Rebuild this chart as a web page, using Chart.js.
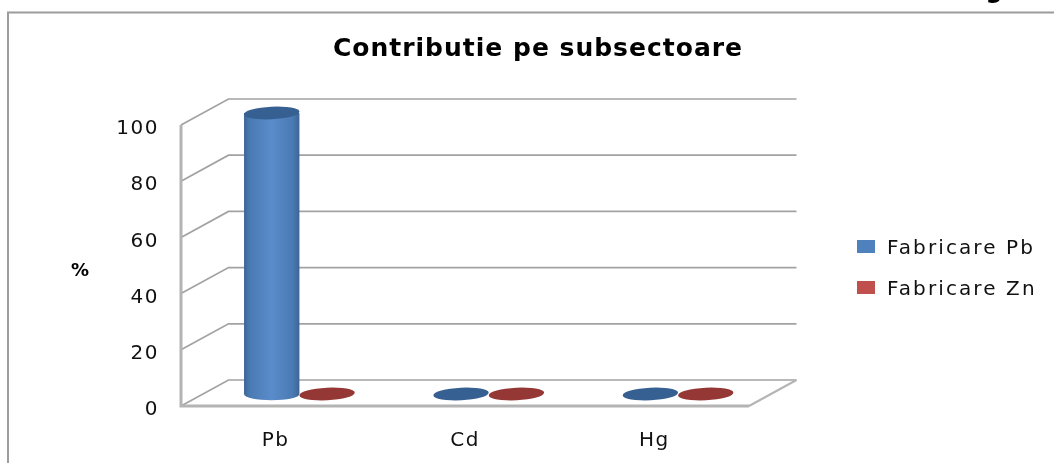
<!DOCTYPE html>
<html><head><meta charset="utf-8">
<style>html,body{margin:0;padding:0;background:#fff;overflow:hidden}#w{width:1054px;height:463px;position:relative}canvas{display:block}</style>
<script src="https://cdn.jsdelivr.net/npm/chart.js@4"></script>
</head><body><div id="w"><canvas id="c" width="1054" height="463"></canvas></div>
<script>
const categories = ["Pb", "Cd", "Hg"];
const fabricarePb = [100, 0, 0];
const fabricareZn = [0, 0, 0];
const yTicks = [0, 20, 40, 60, 80, 100];
const titleText = "Contributie pe subsectoare";
const yAxisLabel = "%";

const FONT = '"DejaVu Sans"';
const DX = 47.5, DY = -26;

const scene = {
  id: 'scene',
  beforeDraw(chart) {
    const ctx = chart.ctx;
    ctx.letterSpacing = '1.5px';
    ctx.save();
    ctx.fillStyle = '#fff';
    ctx.fillRect(0, 0, chart.width, chart.height);
    ctx.strokeStyle = '#9c9c9c';
    ctx.lineWidth = 2;
    ctx.beginPath();
    ctx.moveTo(8, 463); ctx.lineTo(8, 12.5); ctx.lineTo(1054, 12.5);
    ctx.stroke();
    ctx.restore();
  },
  beforeDatasetsDraw(chart) {
    const ctx = chart.ctx, y = chart.scales.y, a = chart.chartArea;
    ctx.save();
    ctx.strokeStyle = '#a2a2a2';
    ctx.lineWidth = 1.7;
    yTicks.forEach(v => {
      const p = y.getPixelForValue(v);
      ctx.beginPath();
      ctx.moveTo(a.left, p);
      ctx.lineTo(a.left + DX, p + DY);
      ctx.lineTo(a.right + DX, p + DY);
      ctx.stroke();
    });
    const p0 = y.getPixelForValue(0);
    ctx.strokeStyle = '#b4b4b4';
    ctx.lineWidth = 3;
    ctx.beginPath();
    ctx.moveTo(a.left, y.getPixelForValue(100));
    ctx.lineTo(a.left, p0);
    ctx.lineTo(a.right, p0);
    ctx.stroke();
    ctx.lineWidth = 2;
    ctx.beginPath();
    ctx.moveTo(a.right, p0);
    ctx.lineTo(a.right + DX, p0 + DY);
    ctx.stroke();

    const dark = ['#376092', '#953735'];
    const edge = ['#3c6593', '#8e3331'];
    const mid = ['#5a8ccb', '#c0504d'];
    chart.data.datasets.forEach((ds, i) => {
      chart.getDatasetMeta(i).data.forEach(el => {
        const cx = el.x + DX / 2;
        const rx = el.width / 2, ry = 6.3;
        const by = el.base + DY / 2 + 1, ty = el.y + DY / 2 + 1;
        const tilt = -0.05;
        if (by - ty > 2) {
          const g = ctx.createLinearGradient(cx - rx, 0, cx + rx, 0);
          g.addColorStop(0, edge[i]);
          g.addColorStop(0.1, '#4a7ab3');
          g.addColorStop(0.5, mid[i]);
          g.addColorStop(0.88, '#4a7ab3');
          g.addColorStop(1, edge[i]);
          ctx.fillStyle = g;
          ctx.beginPath();
          ctx.ellipse(cx, by, rx, ry, 0, 0, Math.PI);
          ctx.lineTo(cx - rx, ty);
          ctx.lineTo(cx + rx, ty);
          ctx.closePath();
          ctx.fill();
        }
        ctx.fillStyle = dark[i];
        ctx.beginPath();
        ctx.ellipse(cx, ty, rx, ry, tilt, 0, Math.PI * 2);
        ctx.fill();
      });
    });
    ctx.restore();
    return false;
  },
  afterDraw(chart) {
    const ctx = chart.ctx;
    ctx.save();
    ctx.fillStyle = '#000';
    ctx.textBaseline = 'middle';
    ctx.textAlign = 'center';
    ctx.font = 'bold 25px ' + FONT;
    ctx.letterSpacing = '1px';
    ctx.fillText(titleText, 538, 49);
    ctx.font = 'bold 18px ' + FONT;
    ctx.letterSpacing = '0px';
    ctx.fillText(yAxisLabel, 80, 271);
    ctx.font = 'bold 24px ' + FONT;
    ctx.fillText('g', 994, -8);
    ctx.textAlign = 'left';
    ctx.font = '20px ' + FONT;
    ctx.letterSpacing = '2.1px';
    chart.data.datasets.forEach((ds, i) => {
      const yc = 248 + i * 41;
      ctx.fillStyle = ds.backgroundColor;
      ctx.fillRect(857, yc - 8, 18, 13);
      ctx.fillStyle = '#111';
      ctx.fillText(ds.label, 887, yc + 1);
    });
    ctx.restore();
    ctx.letterSpacing = '0px';
  }
};

new Chart(document.getElementById('c'), {
  type: 'bar',
  data: {
    labels: categories,
    datasets: [
      { label: 'Fabricare Pb', data: fabricarePb, backgroundColor: '#4f81bd' },
      { label: 'Fabricare Zn', data: fabricareZn, backgroundColor: '#c0504d' }
    ]
  },
  plugins: [scene],
  options: {
    responsive: false,
    animation: false,
    events: [],
    layout: { padding: { left: 0, top: 125, right: 305, bottom: 0 } },
    datasets: { bar: { categoryPercentage: 0.585, barPercentage: 1 } },
    plugins: { legend: { display: false }, title: { display: false }, tooltip: { enabled: false } },
    scales: {
      x: {
        grid: { display: false },
        border: { display: false },
        ticks: { color: '#111', font: { family: FONT, size: 20 }, padding: 15, maxRotation: 0 },
        afterFit: s => { s.height = 57; }
      },
      y: {
        min: 0, max: 100,
        grid: { display: false },
        border: { display: false },
        ticks: {
          stepSize: 20, color: '#111', font: { family: FONT, size: 20, lineHeight: '8px' }, padding: 14,
          callback: v => ['', String(v)]
        },
        afterFit: s => { s.width = 181; }
      }
    }
  }
});
</script></body></html>
